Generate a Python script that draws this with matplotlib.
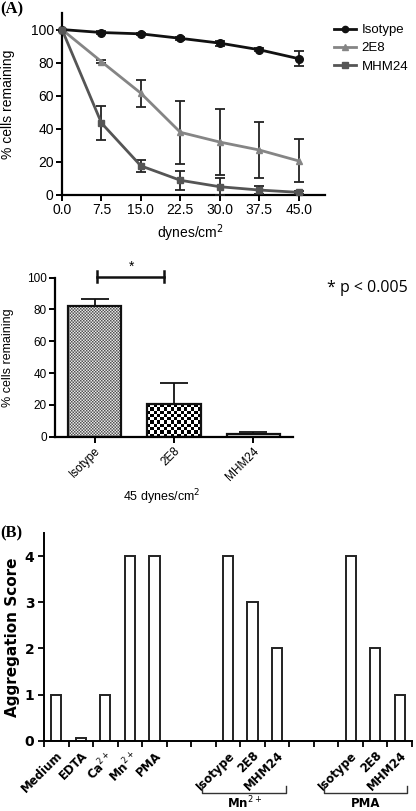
import numpy as np
import matplotlib
matplotlib.use("Agg")
import matplotlib.pyplot as plt
from matplotlib.lines import Line2D
from matplotlib.transforms import blended_transform_factory

# ---------------- data ----------------
shear = [0.0, 7.5, 15.0, 22.5, 30.0, 37.5, 45.0]
iso_mean = [100, 98.2, 97.4, 94.7, 91.8, 87.8, 82.4]
iso_err = [0, 0.8, 0.8, 1.0, 1.5, 1.0, 4.5]
e2e8_mean = [100, 80.6, 61.5, 37.9, 32.0, 27.2, 20.6]
e2e8_err = [0, 1.0, 8.2, 19.0, 19.8, 17.2, 13.0]
mhm_mean = [100, 43.5, 17.6, 8.9, 5.0, 3.0, 1.6]
mhm_err = [0, 10.0, 3.6, 5.9, 5.2, 2.5, 1.0]
line_labels = ["Isotype", "2E8", "MHM24"]
xticks_a = ["0.0", "7.5", "15.0", "22.5", "30.0", "37.5", "45.0"]

bar_cats = ["Isotype", "2E8", "MHM24"]
bar_vals = [82.4, 20.6, 1.6]
bar_errs = [4.5, 13.0, 1.5]

agg_cats = ["Medium", "EDTA", "Ca$^{2+}$", "Mn$^{2+}$", "PMA", "", "",
            "Isotype", "2E8", "MHM24", "", "", "Isotype", "2E8", "MHM24"]
agg_vals = [1, 0.05, 1, 4, 4, np.nan, np.nan, 4, 3, 2, np.nan, np.nan, 4, 2, 1]

W, H = 416, 811
fig = plt.figure(figsize=(W / 100, H / 100), dpi=100)

def ax_at(l, r, t, b):
    return fig.add_axes([l / W, 1 - b / H, (r - l) / W, (b - t) / H])

SANS = "Liberation Sans"

# ---------------- Panel A top ----------------
ax1 = ax_at(62, 325, 13, 195)
styles = [("#111111", "o", 5.5), ("#858585", "^", 5.0), ("#555555", "s", 5.0)]
handles = []
for (m, e, lab), (c, mk, ms) in zip(
        [(iso_mean, iso_err, line_labels[0]), (e2e8_mean, e2e8_err, line_labels[1]),
         (mhm_mean, mhm_err, line_labels[2])], styles):
    ax1.errorbar(shear, m, yerr=e, color=c, marker=mk, markersize=ms, lw=2.0,
                 ecolor="#222222", elinewidth=1.3, capsize=3.5, capthick=1.3,
                 clip_on=False, zorder=3)
    handles.append(Line2D([], [], color=c, marker=mk, markersize=ms - 1, lw=2.0,
                          label=lab))
ax1.set_xlim(0, 50)
ax1.set_ylim(0, 110)
ax1.set_xticks(shear)
ax1.set_xticklabels(xticks_a)
ax1.set_yticks([0, 20, 40, 60, 80, 100])
for s in ["top", "right"]:
    ax1.spines[s].set_visible(False)
for s in ["left", "bottom"]:
    ax1.spines[s].set_linewidth(1.6)
ax1.tick_params(width=1.4, length=4, labelsize=10, pad=2)
for t in ax1.get_xticklabels() + ax1.get_yticklabels():
    t.set_fontfamily(SANS)
ax1.set_ylabel("% cells remaining", fontsize=10, family=SANS)
ax1.yaxis.set_label_coords(-0.178, 0.5)
fig.text(190 / W, 1 - 233 / H, "dynes/cm$^2$", ha="center", va="center",
         fontsize=10, family=SANS)
ax1.legend(handles=handles, loc="upper left", bbox_to_anchor=(334 / W, 1 - 24 / H),
           bbox_transform=fig.transFigure, frameon=False,
           prop={"family": SANS, "size": 9.5}, handlelength=1.7,
           handletextpad=0.4, labelspacing=0.45, borderpad=0, borderaxespad=0)

# ---------------- Panel A bottom ----------------
ax2 = ax_at(55, 293, 277.7, 436.7)
xb = np.arange(len(bar_cats))
bars = ax2.bar(xb, bar_vals, width=0.67, facecolor="none", edgecolor="#111111",
               linewidth=1.6, zorder=2)
ax2.errorbar(xb, bar_vals, yerr=[np.zeros(3), bar_errs], fmt="none",
             ecolor="#111111", elinewidth=1.3, capsize=10, capthick=1.3, zorder=1)
def checker(n_x, n_y):
    return (np.add.outer(np.arange(n_y), np.arange(n_x)) % 2).astype(float)
for b, (nx, ny), interp, vmin in zip(bars[:2], [(36, 88), (16, 10)],
                                     ["antialiased", "nearest"], [-0.3, 0]):
    x0, y0 = b.get_x(), b.get_y()
    im = ax2.imshow(checker(nx, ny), cmap="gray", vmin=vmin, vmax=1,
                    extent=[x0, x0 + b.get_width(), y0, y0 + b.get_height()],
                    aspect="auto", interpolation=interp, zorder=1.5)
    im.set_clip_path(b)
ax2.set_xlim(-0.5, 2.5)
ax2.set_ylim(0, 100)
ax2.set_xticks(xb)
ax2.set_xticklabels(bar_cats, rotation=45, ha="right", rotation_mode="anchor",
                    fontsize=8.5, family=SANS)
ax2.set_yticks([0, 20, 40, 60, 80, 100])
for s in ["top", "right"]:
    ax2.spines[s].set_visible(False)
for s in ["left", "bottom"]:
    ax2.spines[s].set_linewidth(1.6)
ax2.tick_params(width=1.4, length=4, labelsize=8.5, pad=2)
for t in ax2.get_yticklabels():
    t.set_fontfamily(SANS)
ax2.set_ylabel("% cells remaining", fontsize=9, family=SANS)
ax2.yaxis.set_label_coords(-0.172, 0.5)
ax2.plot([0.03, 0.88], [100.5, 100.5], color="#111111", lw=1.8, clip_on=False)
for xx in [0.03, 0.88]:
    ax2.plot([xx, xx], [97, 104], color="#111111", lw=1.8, clip_on=False)
ax2.text(0.46, 107, "*", ha="center", va="center", fontsize=10, family=SANS)
fig.text(327 / W, 1 - 288 / H, "* p < 0.005", ha="left", va="center",
         fontsize=11.5, family="Open Sans")
fig.text(162 / W, 1 - 497 / H, "45 dynes/cm$^2$", ha="center", va="center",
         fontsize=9, family=SANS)

# ---------------- Panel B ----------------
ax3 = ax_at(44, 412, 533, 740.7)
xc = np.arange(len(agg_cats)) + 0.5
ax3.bar(xc, agg_vals, width=0.42, facecolor="white", edgecolor="#222222",
        linewidth=1.4, zorder=2)
ax3.set_xlim(0, len(agg_cats))
ax3.set_ylim(0, 4.5)
ax3.set_xticks(np.arange(len(agg_cats) + 1), minor=True)
ax3.set_xticks(xc)
ax3.set_xticklabels(agg_cats, rotation=45, ha="right", rotation_mode="anchor",
                    fontsize=8.5, fontweight="bold", family="DejaVu Sans")
ax3.tick_params(axis="x", which="major", length=0, pad=6)
ax3.tick_params(axis="x", which="minor", length=4, width=1.3)
ax3.set_yticks([0, 1, 2, 3, 4])
ax3.set_yticklabels(["0", "1", "2", "3", "4"], fontsize=10, fontweight="bold")
ax3.tick_params(axis="y", length=4, width=1.3, pad=3)
for s in ["top", "right"]:
    ax3.spines[s].set_visible(False)
for s in ["left", "bottom"]:
    ax3.spines[s].set_linewidth(1.4)
ax3.set_ylabel("Aggregation Score", fontsize=11, fontweight="bold")
ax3.yaxis.set_label_coords(-0.066, 0.5)

tr = blended_transform_factory(ax3.transData, ax3.transAxes)
for (xl, xr, lab) in [(6.44, 9.87, "Mn$^{2+}$"), (11.41, 14.8, "PMA")]:
    ax3.plot([xl, xl, xr, xr], [-0.218, -0.252, -0.252, -0.218], color="#333333",
             lw=1.0, transform=tr, clip_on=False)
    ax3.text((xl + xr) / 2, -0.300, lab, transform=tr, ha="center", va="center",
             fontsize=8.5, fontweight="bold")

fig.text(0.0, 1 - 9 / H, "(A)", ha="left", va="center", fontsize=12,
         fontweight="bold", family="Liberation Serif")
fig.text(0.0, 1 - 533 / H, "(B)", ha="left", va="center", fontsize=12,
         fontweight="bold", family="Liberation Serif")

fig.savefig("out.png", dpi=100)
